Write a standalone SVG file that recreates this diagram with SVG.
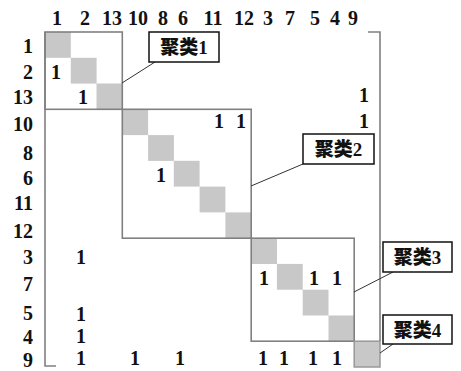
<svg xmlns="http://www.w3.org/2000/svg" width="461" height="371" viewBox="0 0 461 371">
<style>
.n{font-family:"Liberation Serif","Times New Roman",serif;font-size:20px;font-weight:bold;fill:#111;text-anchor:middle}
.r{text-anchor:end}
.d{fill:#c8c8c8;stroke:none}
.ln{fill:none;stroke:#808080;stroke-width:1.6}
.lb{fill:#fff;stroke:#111;stroke-width:1.5}
.lt{font-family:"Liberation Serif","Noto Sans CJK SC",serif;font-size:19px;font-weight:900;fill:#111;text-anchor:middle}
.ld{fill:none;stroke:#333;stroke-width:1}
</style>
<rect width="461" height="371" fill="#fff"/>
<g id="diagonal">
<rect class="d" x="45" y="32" width="25.8" height="25.8"/>
<rect class="d" x="70.8" y="57.8" width="25.8" height="25.8"/>
<rect class="d" x="96.5" y="83.5" width="25.8" height="25.8"/>
<rect class="d" x="122.3" y="109.3" width="25.8" height="25.8"/>
<rect class="d" x="148.1" y="135.1" width="25.8" height="25.8"/>
<rect class="d" x="173.8" y="160.8" width="25.8" height="25.8"/>
<rect class="d" x="199.6" y="186.6" width="25.8" height="25.8"/>
<rect class="d" x="225.4" y="212.4" width="25.8" height="25.8"/>
<rect class="d" x="251.2" y="238.2" width="25.8" height="25.8"/>
<rect class="d" x="276.9" y="263.9" width="25.8" height="25.8"/>
<rect class="d" x="302.7" y="289.7" width="25.8" height="25.8"/>
<rect class="d" x="328.5" y="315.5" width="25.8" height="25.8"/>
</g>
<g id="cluster1"><rect class="ln" x="45" y="32" width="77.3" height="77.3"/></g>
<g id="cluster2"><rect class="ln" x="122.3" y="109.3" width="128.9" height="128.9"/></g>
<g id="cluster3"><rect class="ln" x="251.2" y="238.2" width="103" height="103"/></g>
<g id="cluster4"><rect x="354.2" y="341.2" width="25.8" height="25.8" fill="#c8c8c8" stroke="#999" stroke-width="1.5"/></g>
<g id="brackets">
<path class="ln" d="M45 32 V366 H56"/>
<path class="ln" d="M368 32 H380 V341"/>
</g>
<g id="col-labels">
<text class="n" x="57" y="25">1</text>
<text class="n" x="85" y="25">2</text>
<text class="n" x="112" y="25">13</text>
<text class="n" x="138" y="25">10</text>
<text class="n" x="163" y="25">8</text>
<text class="n" x="183" y="25">6</text>
<text class="n" x="213" y="25">11</text>
<text class="n" x="244" y="25">12</text>
<text class="n" x="268" y="25">3</text>
<text class="n" x="290" y="25">7</text>
<text class="n" x="315" y="25">5</text>
<text class="n" x="335" y="25">4</text>
<text class="n" x="353" y="25">9</text>
</g>
<g id="row-labels">
<text class="n r" x="33" y="53">1</text>
<text class="n r" x="33" y="79">2</text>
<text class="n r" x="33" y="104">13</text>
<text class="n r" x="33" y="131">10</text>
<text class="n r" x="33" y="160">8</text>
<text class="n r" x="33" y="185">6</text>
<text class="n r" x="33" y="210">11</text>
<text class="n r" x="33" y="238">12</text>
<text class="n r" x="33" y="264">3</text>
<text class="n r" x="33" y="291">7</text>
<text class="n r" x="33" y="320">5</text>
<text class="n r" x="33" y="344">4</text>
<text class="n r" x="33" y="367">9</text>
</g>
<g id="entries">
<text class="n" x="56" y="79">1</text>
<text class="n" x="83" y="104">1</text>
<text class="n" x="364" y="102">1</text>
<text class="n" x="219" y="128">1</text>
<text class="n" x="241" y="128">1</text>
<text class="n" x="364" y="128">1</text>
<text class="n" x="161" y="182">1</text>
<text class="n" x="81" y="264">1</text>
<text class="n" x="264" y="285">1</text>
<text class="n" x="314" y="285">1</text>
<text class="n" x="337" y="285">1</text>
<text class="n" x="81" y="321">1</text>
<text class="n" x="81" y="343">1</text>
<text class="n" x="81" y="365">1</text>
<text class="n" x="135" y="365">1</text>
<text class="n" x="180" y="365">1</text>
<text class="n" x="263" y="365">1</text>
<text class="n" x="284" y="365">1</text>
<text class="n" x="313" y="365">1</text>
<text class="n" x="337" y="365">1</text>
</g>
<g id="connectors">
<line class="ld" x1="122" y1="83" x2="155" y2="62"/>
<line class="ld" x1="251" y1="186" x2="303" y2="164"/>
<line class="ld" x1="354" y1="292" x2="393" y2="272"/>
<line class="ld" x1="380" y1="353" x2="393" y2="344"/>
</g>
<g id="label1"><rect class="lb" x="149" y="32" width="70" height="30"/><text class="lt" x="184" y="53.5">聚类1</text></g>
<g id="label2"><rect class="lb" x="303" y="134" width="71" height="30"/><text class="lt" x="338.5" y="155.5">聚类2</text></g>
<g id="label3"><rect class="lb" x="383" y="242" width="69" height="30"/><text class="lt" x="417.5" y="263.5">聚类3</text></g>
<g id="label4"><rect class="lb" x="383" y="315" width="69" height="29"/><text class="lt" x="417.5" y="336.5">聚类4</text></g>
</svg>
